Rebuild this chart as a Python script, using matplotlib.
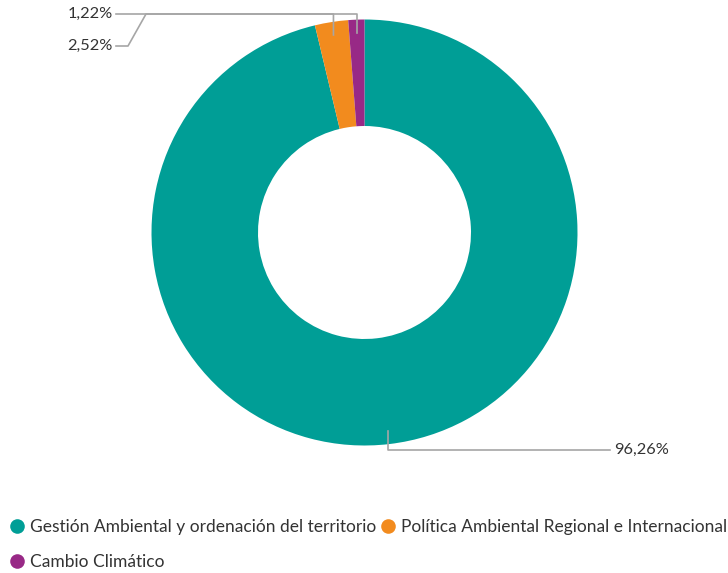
import numpy as np
import matplotlib
matplotlib.use("Agg")
import matplotlib.pyplot as plt
from matplotlib.lines import Line2D

plt.rcParams['font.family'] = ['Lato', 'DejaVu Sans']

# datos del gráfico
categorias = ["Gestión Ambiental y ordenación del territorio",
              "Política Ambiental Regional e Internacional",
              "Cambio Climático"]
valores = [96.26, 2.52, 1.22]
colores = ["#009E96", "#F28B1E", "#982986"]

W, H = 728, 573
fig = plt.figure(figsize=(W / 100, H / 100), dpi=100)
ax = fig.add_axes([0, 0, 1, 1])

cx, cy = 364.5, H - 232.5
r_ext = 213
ancho = 106.5

wedges, _ = ax.pie(valores, colors=colores, radius=r_ext, center=(cx, cy),
                   startangle=90, counterclock=False,
                   wedgeprops=dict(width=ancho, edgecolor='none'))
ax.set_xlim(0, W)
ax.set_ylim(0, H)
ax.set_aspect('equal')
ax.axis('off')

def etiqueta(v):
    return f"{v:.2f}".replace(".", ",") + "%"

# punto de anclaje de cada línea guía (mitad del sector)
r_anc = 200
anclas = []
for w in wedges:
    ang = np.deg2rad((w.theta1 + w.theta2) / 2)
    anclas.append((cx + r_anc * np.cos(ang), cy + r_anc * np.sin(ang)))

gris = "#A6A6A6"
lw = 1.2
fs = 11.8

# Gestión Ambiental: abajo a la derecha
x0, y0 = anclas[0]
yl = H - 450
ax.plot([x0, x0, 610], [y0, yl, yl], color=gris, lw=lw)
ax.text(614, yl, etiqueta(valores[0]), ha='left', va='center', fontsize=fs, color='#333333')

# Política Ambiental: arriba a la izquierda, con quiebre
x1, y1 = anclas[1]
yt = H - 14
yb = H - 46
ax.plot([x1, x1, 146, 128, 116], [y1, yt, yt, yb, yb], color=gris, lw=lw)
ax.text(113, yb, etiqueta(valores[1]), ha='right', va='center', fontsize=fs, color='#333333')

# Cambio Climático: arriba a la izquierda
x2, y2 = anclas[2]
ax.plot([x2, x2, 116], [y2, yt, yt], color=gris, lw=lw)
ax.text(113, yt, etiqueta(valores[2]), ha='right', va='center', fontsize=fs, color='#333333')

# leyenda: orden por columnas para que quede G | P en la primera fila
orden = [0, 2, 1]
handles = [Line2D([], [], marker='o', ls='none', markersize=10.5,
                  markerfacecolor=colores[i], markeredgecolor='none') for i in orden]
labels = [categorias[i] for i in orden]
fig.legend(handles, labels, loc='upper left', bbox_to_anchor=(0.016, 1 - 519 / H),
           ncol=2, frameon=False, fontsize=12.5, handlelength=0.6, handletextpad=0.45,
           columnspacing=0.4, labelspacing=1.08, borderaxespad=0, borderpad=0.0,
           labelcolor='#333333')

fig.savefig("out.png", dpi=100)
